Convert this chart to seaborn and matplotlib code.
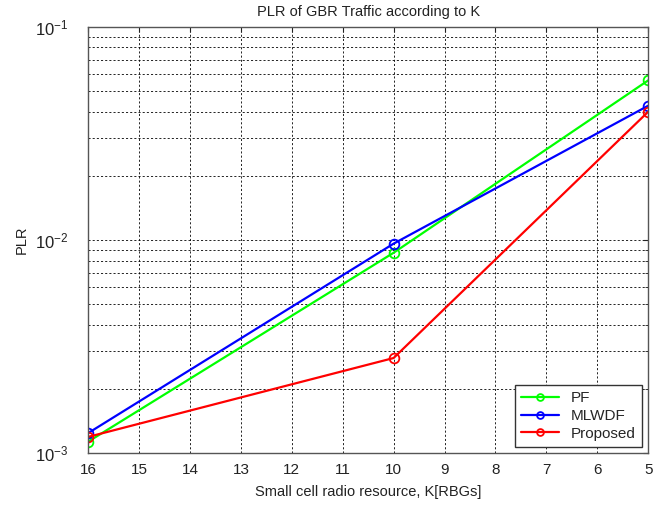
import matplotlib
matplotlib.use("Agg")
import matplotlib.pyplot as plt
import seaborn as sns
import pandas as pd
import numpy as np
from matplotlib.ticker import LogLocator, NullFormatter

K = [16, 10, 5]
pf = [1.13e-3, 8.7e-3, 5.6e-2]
mlwdf = [1.24e-3, 9.6e-3, 4.26e-2]
proposed = [1.19e-3, 2.79e-3, 3.99e-2]
series_names = ["PF", "MLWDF", "Proposed"]
colors = ["#00ff00", "#0000ff", "#ff0000"]
xticks = list(range(16, 4, -1))

sns.set_style("white")
plt.rcParams['font.family'] = ['Liberation Sans', 'DejaVu Sans']

fig = plt.figure(figsize=(6.58, 5.05), dpi=100)
ax = fig.add_axes([0.134, 0.103, 0.851, 0.844])

for name, vals, c in zip(series_names, [pf, mlwdf, proposed], colors):
    df = pd.DataFrame({"K": K, "PLR": vals})
    sns.lineplot(data=df, x="K", y="PLR", ax=ax, color=c, marker="o",
                 markersize=7, markerfacecolor="none", markeredgecolor=c,
                 markeredgewidth=1.3, linewidth=1.6, label=name)

ax.set_yscale("log")
ax.set_ylim(1e-3, 1e-1)
ax.set_xlim(16, 5)
ax.set_xticks(xticks)
ax.set_xticklabels([str(t) for t in xticks])
ax.yaxis.set_major_locator(LogLocator(base=10, numticks=5))
ax.yaxis.set_minor_locator(LogLocator(base=10, subs=np.arange(2, 10), numticks=20))
ax.yaxis.set_minor_formatter(NullFormatter())

ax.grid(True, which="major", axis="both", color="black", linestyle=(0, (2.5, 2.5)), linewidth=0.6)
ax.grid(True, which="minor", axis="y", color="black", linestyle=(0, (2.5, 2.5)), linewidth=0.6)

for s in ax.spines.values():
    s.set_color("#555555")
    s.set_linewidth(1.0)
ax.tick_params(axis="both", which="both", direction="in", colors="#222222", labelsize=11,
               top=True, right=True)
ax.tick_params(axis="x", pad=7)
ax.tick_params(axis="y", pad=14)
ax.tick_params(axis="y", which="major", labelsize=12)

ax.set_title("PLR of GBR Traffic according to K", fontsize=10.5, color="#222222", pad=8)
ax.set_xlabel("Small cell radio resource, K[RBGs]", fontsize=10.5, color="#222222", labelpad=6)
ax.set_ylabel("PLR", fontsize=10.5, color="#222222", labelpad=5)

leg = ax.legend(loc="lower right", fontsize=11, frameon=True, fancybox=False,
                edgecolor="#333333", framealpha=1, borderaxespad=0.4,
                handlelength=2.5, markerscale=0.7, labelspacing=0.25)
leg.get_frame().set_linewidth(1.0)

fig.savefig("out.png", dpi=100, facecolor="white")
